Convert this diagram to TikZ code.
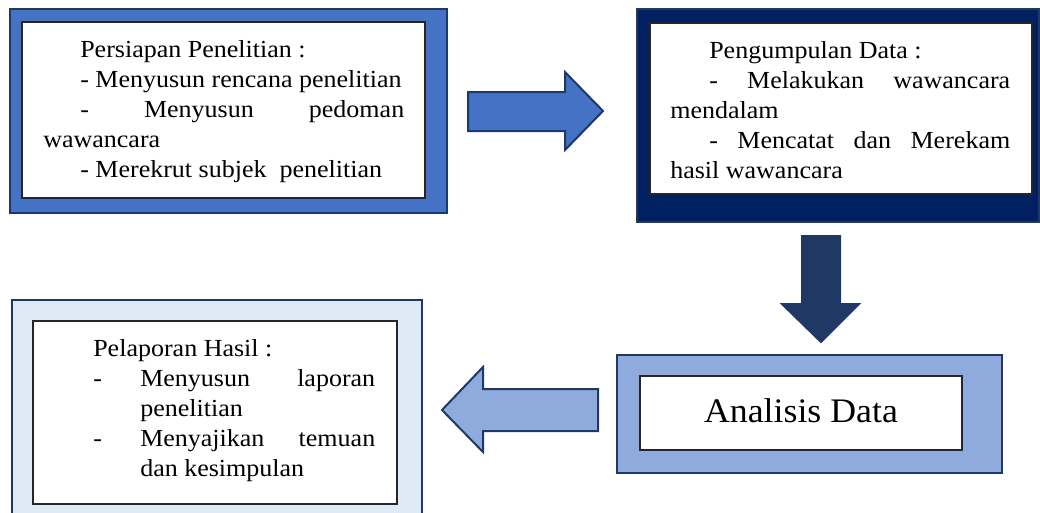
\documentclass[tikz,border=0pt]{standalone}
\usepackage{fontspec}
\setmainfont{Liberation Serif}[FakeStretch=1.06]
\newfontfamily\bigfont{Liberation Serif}[FakeStretch=1.04]
\usetikzlibrary{fit}
\definecolor{bluemid}{HTML}{4472C4}
\definecolor{navy}{HTML}{002060}
\definecolor{edge}{HTML}{1F3864}
\definecolor{darkarrow}{HTML}{203864}
\definecolor{lightblue}{HTML}{DEEBF7}
\definecolor{softblue}{HTML}{8FAADC}
\begin{document}
\begin{tikzpicture}[x=0.75pt,y=-0.75pt,
  outerbox/.style={draw=edge, line width=1.5pt, inner sep=0pt},
  innerbox/.style={draw=black!85, fill=white, line width=0.9pt, inner sep=0pt},
  txt/.style={anchor=base west, inner sep=0pt, font=\fontsize{18.4}{22}\selectfont},
  bigtxt/.style={anchor=base, inner sep=0pt, font=\bigfont\fontsize{25.8}{30}\selectfont},
  blockarrow/.style={draw=edge, line width=1.5pt, line join=miter}]
\useasboundingbox (0,0) rectangle (1040,512);
\clip (0,0) rectangle (1040,512);
% boxes
\node[outerbox, fill=bluemid, fit={(10,9) (447,213)}] (b1) {};
\node[innerbox, fit={(22,22) (425,198)}] (b1in) {};
\node[outerbox, fill=navy, fit={(637,9) (1039,222)}] (b2) {};
\node[innerbox, fit={(650,23) (1032,194)}] (b2in) {};
\node[outerbox, fill=softblue, fit={(617,355) (1002,473)}] (b4) {};
\node[innerbox, fit={(640,376) (962,450)}] (b4in) {};
\node[outerbox, fill=lightblue, fit={(12,300) (422,530)}] (b3) {};
\node[innerbox, fit={(33,321) (397,504)}] (b3in) {};
% arrows
\draw[blockarrow, fill=bluemid] (468,92) -- (565,92) -- (565,72) -- (603,111) -- (565,150) -- (565,131) -- (468,131) -- cycle;
\draw[blockarrow, fill=darkarrow] (802,236) -- (840,236) -- (840,304) -- (859,304) -- (821,342) -- (782,304) -- (802,304) -- cycle;
\draw[blockarrow, fill=softblue] (598,389) -- (483,389) -- (483,367) -- (442,410) -- (483,452) -- (483,431) -- (598,431) -- cycle;
% text box 1
\node[txt] (t1a) at (80,57) {Persiapan Penelitian :};
\node[txt] (t1b) at (80,87) {- Menyusun rencana penelitian};
\node[txt] (t1c) at (80,117) {\makebox[243pt][s]{- Menyusun pedoman}};
\node[txt] (t1d) at (43,147) {wawancara};
\node[txt] (t1e) at (80,177) {- Merekrut subjek\ \ penelitian};
% text box 2
\node[txt] (t2a) at (709,58) {Pengumpulan Data :};
\node[txt] (t2b) at (709,88) {\makebox[225.75pt][s]{- Melakukan wawancara}};
\node[txt] (t2c) at (670,118) {mendalam};
\node[txt] (t2d) at (709,148) {\makebox[225.75pt][s]{- Mencatat dan Merekam}};
\node[txt] (t2e) at (670,178) {hasil wawancara};
% text box 3
\node[txt] (t3a) at (93,356) {Pelaporan Hasil :};
\node[txt] (t3b) at (93,386) {-};
\node[txt] (t3c) at (140,386) {\makebox[176.25pt][s]{Menyusun laporan}};
\node[txt] (t3d) at (140,416) {penelitian};
\node[txt] (t3e) at (93,446) {-};
\node[txt] (t3f) at (140,446) {\makebox[176.25pt][s]{Menyajikan temuan}};
\node[txt] (t3g) at (140,476) {dan kesimpulan};
% text box 4
\node[bigtxt] (t4) at (801,422) {Analisis Data};
\end{tikzpicture}
\end{document}
